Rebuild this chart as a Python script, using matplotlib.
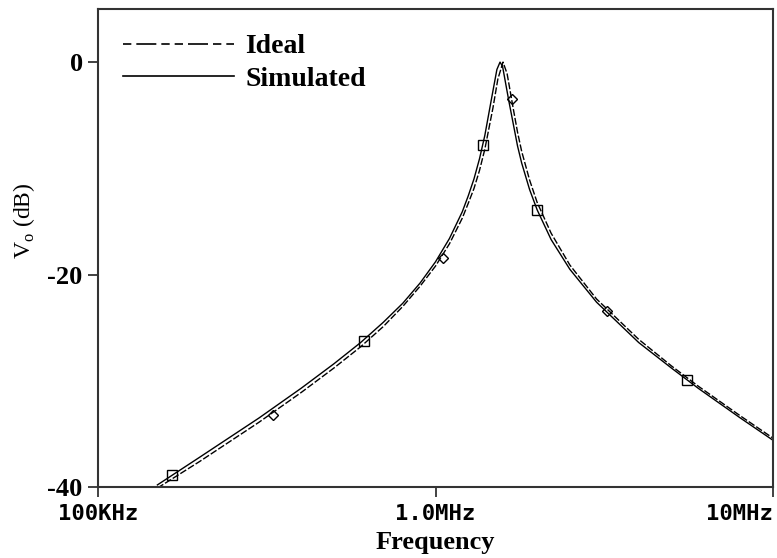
import matplotlib
matplotlib.use("Agg")
import matplotlib.pyplot as plt
from matplotlib.lines import Line2D
from matplotlib import ticker

plt.rcParams["mathtext.fontset"] = "custom"
plt.rcParams["mathtext.rm"] = "Liberation Serif"
plt.rcParams["axes.unicode_minus"] = False

# simulated response
freq_sim = [150e3, 200e3, 300e3, 400e3, 500e3, 600e3, 700e3, 800e3, 900e3,
            1.0e6, 1.1e6, 1.2e6, 1.25e6, 1.3e6, 1.35e6, 1.4e6, 1.47e6, 1.52e6,
            1.553e6, 1.58e6, 1.65e6, 1.75e6, 1.8e6, 1.9e6, 2.0e6, 2.2e6,
            2.5e6, 3.0e6, 4.0e6, 5.0e6, 6.0e6, 7.0e6, 8.0e6, 10e6]
vo_sim = [-39.8, -37.2, -33.5, -30.7, -28.4, -26.4, -24.5, -22.7, -20.8,
          -18.8, -16.6, -14.1, -12.6, -11.0, -9.1, -6.9, -3.2, -0.7,
          0.0, -0.4, -3.7, -7.9, -9.5, -12.0, -13.9, -16.7,
          -19.5, -22.6, -26.4, -28.8, -30.7, -32.2, -33.5, -35.6]

# ideal response
freq_ideal = [150e3, 200e3, 300e3, 400e3, 500e3, 600e3, 700e3, 800e3, 900e3,
              1.0e6, 1.1e6, 1.2e6, 1.25e6, 1.3e6, 1.35e6, 1.4e6, 1.48e6, 1.53e6,
              1.585e6, 1.63e6, 1.7e6, 1.75e6, 1.8e6, 1.9e6, 2.0e6, 2.2e6,
              2.5e6, 3.0e6, 4.0e6, 5.0e6, 6.0e6, 7.0e6, 8.0e6, 10e6]
vo_ideal = [-40.1, -37.6, -33.9, -31.1, -28.8, -26.8, -24.9, -23.0, -21.1,
            -19.2, -17.1, -14.7, -13.3, -11.9, -10.2, -8.2, -4.3, -1.6,
            0.0, -1.1, -4.4, -6.6, -8.4, -11.1, -13.2, -16.1,
            -19.1, -22.3, -26.1, -28.6, -30.5, -32.0, -33.3, -35.4]

# trace markers
sq_freq = [166e3, 614e3, 1.38e6, 2.0e6, 5.56e6]
sq_vo = [-38.9, -26.3, -7.8, -13.9, -29.9]
dm_freq = [330e3, 1.05e6, 1.69e6, 3.22e6]
dm_vo = [-33.2, -18.4, -3.5, -23.4]

xticks = [1e5, 1e6, 1e7]
xtick_labels = ["100KHz", "1.0MHz", "10MHz"]
yticks = [0, -20, -40]
ytick_labels = ["0", "-20", "-40"]

fig = plt.figure(figsize=(7.77, 5.58), dpi=100)
ax = fig.add_axes([0.1261, 0.1272, 0.8688, 0.8567])

ax.plot(freq_ideal, vo_ideal, color="black", lw=1.0, dashes=(5, 1.5))
ax.plot(freq_sim, vo_sim, color="black", lw=1.0)
ax.plot(sq_freq, sq_vo, ls="none", marker="s", ms=6.5, mfc="none",
        mec="black", mew=1.0)
ax.plot(dm_freq, dm_vo, ls="none", marker="D", ms=5, mfc="none",
        mec="black", mew=1.0)

ax.set_xscale("log")
ax.set_xlim(1e5, 1e7)
ax.set_ylim(-40, 5)
ax.xaxis.set_minor_locator(ticker.NullLocator())
ax.set_xticks(xticks)
ax.set_xticklabels(xtick_labels, family="DejaVu Sans Mono",
                   fontweight="bold", fontsize=16)
ax.get_xticklabels()[-1].set_horizontalalignment("right")
ax.set_yticks(yticks)
ax.set_yticklabels(ytick_labels, family="Liberation Serif",
                   fontweight="bold", fontsize=19)
ax.tick_params(axis="both", direction="out", length=7, width=1.3,
               color="#333333")
ax.tick_params(axis="x", pad=5)
ax.tick_params(axis="y", pad=4)

for sp in ax.spines.values():
    sp.set_linewidth(1.5)
    sp.set_color("#333333")

ax.set_xlabel("Frequency", family="Liberation Serif", fontweight="bold",
              fontsize=19, labelpad=5)
ax.set_ylabel(r"V$_{\mathrm{o}}$ (dB)", family="Liberation Serif",
              fontsize=17)
ax.yaxis.set_label_coords(-0.09, 0.556)

handles = [
    Line2D([], [], color="black", lw=1.2, dashes=(5, 3, 12, 3, 5, 3)),
    Line2D([], [], color="black", lw=1.2),
]
leg = ax.legend(handles, ["Ideal", "Simulated"], loc="upper left",
                bbox_to_anchor=(0.0, 1.0), frameon=False,
                handlelength=4.0, handletextpad=0.4, labelspacing=0.25,
                prop={"family": "Liberation Serif", "weight": "bold",
                      "size": 20})

fig.savefig("out.png", dpi=100)
